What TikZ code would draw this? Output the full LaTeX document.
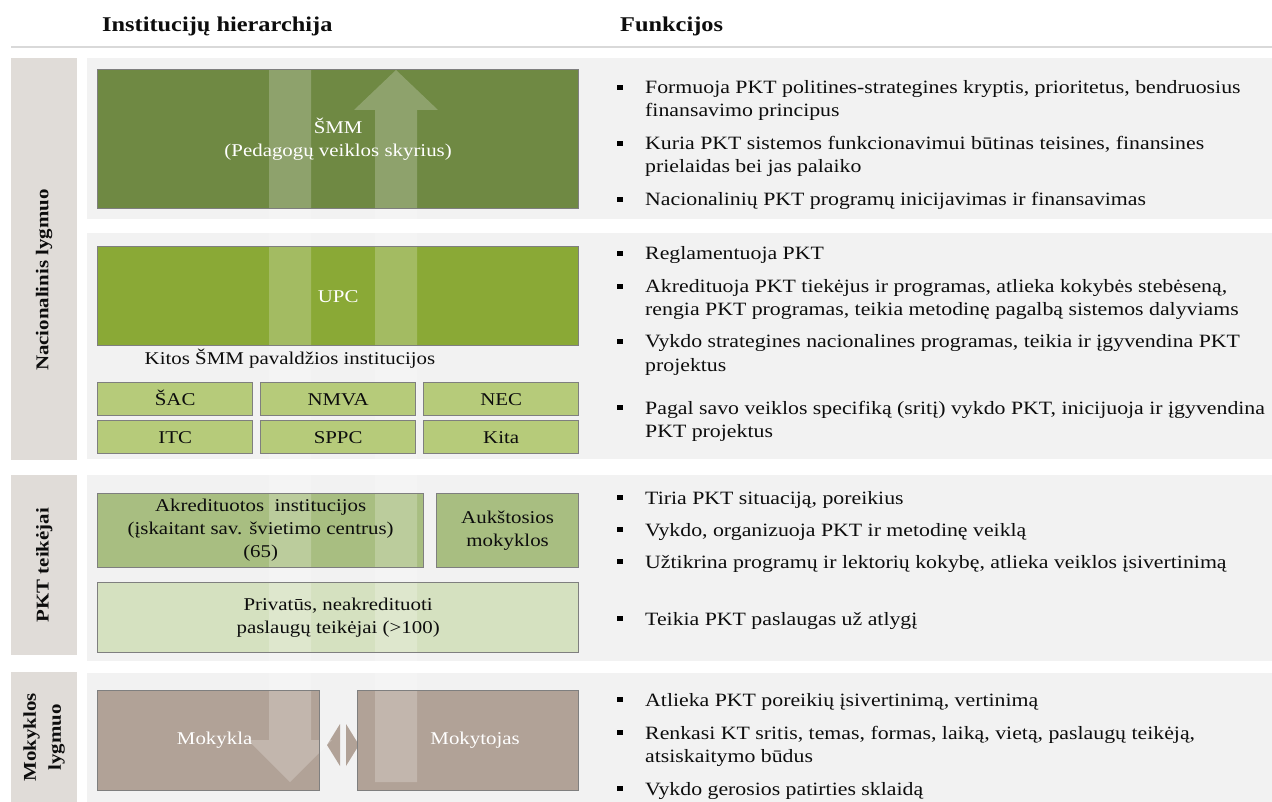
\documentclass[tikz,border=0pt]{standalone}
\usepackage{fontspec}
\setmainfont{Liberation Serif}[FakeStretch=1.16]
\usetikzlibrary{calc}
\definecolor{panelc}{HTML}{F2F2F2}
\definecolor{bandc}{HTML}{E0DCD8}
\definecolor{smmc}{HTML}{6F8943}
\definecolor{upcc}{HTML}{8AA936}
\definecolor{smallc}{HTML}{B6CB7A}
\definecolor{akrc}{HTML}{A8BE81}
\definecolor{privc}{HTML}{D5E1C0}
\definecolor{mokc}{HTML}{B1A297}
\definecolor{edgec}{HTML}{7F7F7F}
\definecolor{rulec}{HTML}{D9D9D9}
\definecolor{textc}{HTML}{0D0D0D}
\pgfdeclarelayer{bg}
\pgfdeclarelayer{mid}
\pgfsetlayers{bg,mid,main}
\begin{document}
\begin{tikzpicture}[x=1pt,y=-1pt,
  boxtxt/.style={font=\fontsize{18}{23}\selectfont, align=center},
  hbox/.style={draw=edgec, line width=1.3pt, anchor=north west, inner sep=0pt, boxtxt, text=textc},
  smallbox/.style={hbox, fill=smallc, minimum width=155pt, minimum height=33pt, text height=14pt, text depth=2pt},
  panel/.style={fill=panelc, draw=none, anchor=north west, inner sep=0pt},
  band/.style={fill=bandc, draw=none, anchor=north west, inner sep=0pt},
  bandlabel/.style={rotate=90, font=\bfseries\fontsize{18}{25}\selectfont, align=center, inner sep=0pt, text=textc},
  bul/.style={fill=black, minimum size=5.5pt, inner sep=0pt},
  item/.style={anchor=base west, font=\fontsize{18.8}{23}\selectfont, inner sep=0pt, text=textc},
  head/.style={anchor=base west, font=\bfseries\fontsize{21}{25}\selectfont, inner sep=0pt, text=textc},
  flow/.style={fill=white, fill opacity=0.22, draw=none},
]
\useasboundingbox (0,0) rectangle (1272,802);

% headers
\node[head] (h1) at (102,32) {Institucijų hierarchija};
\node[head] (h2) at (620,32) {Funkcijos};
\coordinate (rl) at (11,47);
\coordinate (rr) at (1272,47);
\draw[rulec, line width=1.5pt] (rl) -- (rr);

% panels and bands (background)
\begin{pgfonlayer}{bg}
\node[panel, minimum width=1185pt, minimum height=161pt] (p1) at (87,58) {};
\node[panel, minimum width=1185pt, minimum height=226pt] (p2) at (87,233) {};
\node[panel, minimum width=1185pt, minimum height=186pt] (p3) at (87,475) {};
\node[panel, minimum width=1185pt, minimum height=129pt] (p4) at (87,673) {};
\node[band, minimum width=66pt, minimum height=402pt] (nat) at (11,58) {};
\node[band, minimum width=66pt, minimum height=180pt] (pkt) at (11,475) {};
\node[band, minimum width=66pt, minimum height=130pt] (mok) at (11,672) {};
\end{pgfonlayer}

\node[bandlabel] (natl) at ($(nat.center)+(0,21)$) {Nacionalinis lygmuo};
\node[bandlabel] (pktl) at (pkt.center) {PKT teikėjai};
\node[bandlabel] (mokl) at (mok.center) {Mokyklos\\lygmuo};

% hierarchy boxes
\node[hbox, minimum width=481pt, minimum height=139pt, text=white] (smm) at (97,69) {ŠMM\\(Pedagogų veiklos skyrius)};
\node[hbox, minimum width=481pt, minimum height=99pt, text=white] (upc) at (97,246) {UPC};
\node[boxtxt, anchor=base, inner sep=0pt, text=textc] (kitos) at (290,364) {Kitos ŠMM pavaldžios institucijos};
\node[smallbox] (sac) at (97,382) {ŠAC};
\node[smallbox] (nmva) at (260,382) {NMVA};
\node[smallbox] (nec) at (423,382) {NEC};
\node[smallbox] (itc) at (97,420) {ITC};
\node[smallbox] (sppc) at (260,420) {SPPC};
\node[smallbox] (kita) at (423,420) {Kita};
\node[hbox, minimum width=326pt, minimum height=74pt] (akr) at (97,493) {Akredituotos\ \ institucijos\\(įskaitant sav. švietimo centrus)\\(65)};
\node[hbox, minimum width=142pt, minimum height=74pt] (auk) at (436,493) {Aukštosios\\mokyklos};
\node[hbox, minimum width=481pt, minimum height=70pt] (priv) at (97,582) {Privatūs, neakredituoti\\paslaugų teikėjai (>100)};
\node[hbox, minimum width=222pt, minimum height=100pt, text=white] (mokykla) at (97,690) {\hspace*{12pt}Mokykla};
\node[hbox, minimum width=221pt, minimum height=100pt, text=white] (mokytojas) at (357,690) {\hspace*{14pt}Mokytojas};

% box fills behind the flow arrows
\begin{pgfonlayer}{bg}
\foreach \n/\c in {smm/smmc, upc/upcc, akr/akrc, auk/akrc, priv/privc, mokykla/mokc, mokytojas/mokc}
  \fill[\c] (\n.north west) rectangle (\n.south east);
\coordinate (dm) at (343,745);
\fill[mokc] ($(dm)+(-3,-21)$) -- ($(dm)+(-16,0)$) -- ($(dm)+(-3,21)$) -- cycle;
\fill[mokc] ($(dm)+(3,-21)$) -- ($(dm)+(16,0)$) -- ($(dm)+(3,21)$) -- cycle;
\end{pgfonlayer}

% translucent flow arrows
\begin{pgfonlayer}{mid}
\fill[flow] (269,70) -- (311,70) -- (311,740) -- (332,740) -- (290,782) -- (248,740) -- (269,740) -- cycle;
\fill[flow] (396,70) -- (438,110) -- (417,110) -- (417,782) -- (375,782) -- (375,110) -- (354,110) -- cycle;
\end{pgfonlayer}

% functions
\foreach \nm/\y/\t in {
  r1a/94/{Formuoja PKT politines-strategines kryptis, prioritetus, bendruosius},
  r1b/150/{Kuria PKT sistemos funkcionavimui būtinas teisines, finansines},
  r1c/206/{Nacionalinių PKT programų inicijavimas ir finansavimas},
  r2a/260/{Reglamentuoja PKT},
  r2b/293/{Akredituoja PKT tiekėjus ir programas, atlieka kokybės stebėseną,},
  r2c/348/{Vykdo strategines nacionalines programas, teikia ir įgyvendina PKT},
  r2d/414/{Pagal savo veiklos specifiką (sritį) vykdo PKT, inicijuoja ir įgyvendina},
  r3a/504/{Tiria PKT situaciją, poreikius},
  r3b/536/{Vykdo, organizuoja PKT ir metodinę veiklą},
  r3c/568/{Užtikrina programų ir lektorių kokybę, atlieka veiklos įsivertinimą},
  r3d/625/{Teikia PKT paslaugas už atlygį},
  r4a/706/{Atlieka PKT poreikių įsivertinimą, vertinimą},
  r4b/739/{Renkasi KT sritis, temas, formas, laiką, vietą, paslaugų teikėją,},
  r4c/795/{Vykdo gerosios patirties sklaidą}}
{
  \node[item] (\nm) at (645,\y) {\t};
  \node[bul] (\nm b) at ($(\nm.base west)+(-25,-6.5)$) {};
}
\foreach \nm/\y/\t in {
  r1a2/117/{finansavimo principus},
  r1b2/173/{prielaidas bei jas palaiko},
  r2b2/316/{rengia PKT programas, teikia metodinę pagalbą sistemos dalyviams},
  r2c2/371/{projektus},
  r2d2/437/{PKT projektus},
  r4b2/762/{atsiskaitymo būdus}}
{
  \node[item] (\nm) at (645,\y) {\t};
}
\end{tikzpicture}
\end{document}
